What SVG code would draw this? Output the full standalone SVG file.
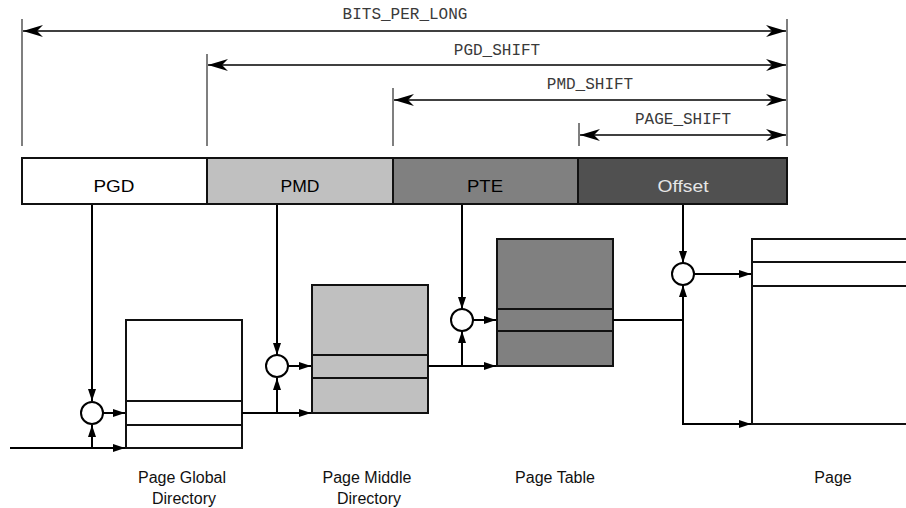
<svg xmlns="http://www.w3.org/2000/svg" width="906" height="508" viewBox="0 0 906 508">
<defs>
<marker id="big" markerUnits="userSpaceOnUse" viewBox="0 0 20 12" refX="20" refY="6" markerWidth="20" markerHeight="12" orient="auto-start-reverse">
<path d="M0,0 L20,6 L0,12 L6,6 Z" fill="#000"/>
</marker>
<marker id="sm" markerUnits="userSpaceOnUse" viewBox="0 0 12 8" refX="12" refY="4" markerWidth="12" markerHeight="8" orient="auto">
<path d="M0,0 L12,4 L0,8 Z" fill="#000"/>
</marker>
</defs>
<style>
.dim{stroke:#000;stroke-width:1.3;fill:none;marker-start:url(#big);marker-end:url(#big)}
.tick{stroke:#555;stroke-width:1.5}
.mono{font-family:"Liberation Mono","DejaVu Sans Mono",monospace;font-size:16px;fill:#3a3a3a;text-anchor:middle}
.lbl{font-family:"Liberation Sans",Arial,sans-serif;font-size:17px;text-anchor:middle}
.cap{font-family:"Liberation Sans",Arial,sans-serif;font-size:16px;text-anchor:middle;fill:#111}
.box{stroke:#111;stroke-width:2}
.ln{stroke:#000;stroke-width:2;fill:none}
.arr{stroke:#000;stroke-width:2;fill:none;marker-end:url(#sm)}
.circ{fill:#fff;stroke:#000;stroke-width:2}
</style>
<rect width="906" height="508" fill="#fff"/>

<g id="dimensions">
<line class="tick" x1="22" y1="19" x2="22" y2="146"/>
<line class="tick" x1="207" y1="54" x2="207" y2="146"/>
<line class="tick" x1="393" y1="88" x2="393" y2="146"/>
<line class="tick" x1="579" y1="123" x2="579" y2="146"/>
<line class="tick" x1="787" y1="19" x2="787" y2="146" stroke="#000"/>
<line class="dim" x1="23" y1="31" x2="786" y2="31"/>
<line class="dim" x1="208" y1="65" x2="786" y2="65"/>
<line class="dim" x1="394" y1="100" x2="786" y2="100"/>
<line class="dim" x1="580" y1="135" x2="786" y2="135"/>
<text class="mono" x="405" y="19">BITS_PER_LONG</text>
<text class="mono" x="497" y="55">PGD_SHIFT</text>
<text class="mono" x="590" y="89">PMD_SHIFT</text>
<text class="mono" x="683" y="124">PAGE_SHIFT</text>
</g>

<g id="address">
<rect class="box" x="22" y="158" width="185" height="46" fill="#fff"/>
<rect class="box" x="207" y="158" width="186" height="46" fill="#c0c0c0"/>
<rect class="box" x="393" y="158" width="185" height="46" fill="#808080"/>
<rect class="box" x="578" y="158" width="209" height="46" fill="#505050"/>
<text class="lbl" x="114" y="192" textLength="41" lengthAdjust="spacingAndGlyphs">PGD</text>
<text class="lbl" x="300" y="192" textLength="39" lengthAdjust="spacingAndGlyphs">PMD</text>
<text class="lbl" x="485" y="192" textLength="36" lengthAdjust="spacingAndGlyphs">PTE</text>
<text class="lbl" x="683" y="192" textLength="51" lengthAdjust="spacingAndGlyphs" fill="#e6e6e6">Offset</text>
</g>

<g id="pgd-table">
<rect class="box" x="126" y="320" width="116" height="128" fill="#fff"/>
<line class="box" x1="126" y1="401" x2="242" y2="401"/>
<line class="box" x1="126" y1="425" x2="242" y2="425"/>
<text class="cap" x="182" y="483">Page Global</text>
<text class="cap" x="184" y="504">Directory</text>
</g>

<g id="pmd-table">
<rect class="box" x="312" y="285" width="116" height="128" fill="#c0c0c0"/>
<line class="box" x1="312" y1="355" x2="428" y2="355"/>
<line class="box" x1="312" y1="378" x2="428" y2="378"/>
<text class="cap" x="367" y="483">Page Middle</text>
<text class="cap" x="369" y="504">Directory</text>
</g>

<g id="pte-table">
<rect class="box" x="497" y="239" width="116" height="127" fill="#808080"/>
<line class="box" x1="497" y1="309" x2="613" y2="309"/>
<line class="box" x1="497" y1="331" x2="613" y2="331"/>
<text class="cap" x="555" y="483">Page Table</text>
</g>

<g id="page">
<rect class="box" x="752" y="239" width="170" height="185" fill="#fff"/>
<line class="box" x1="752" y1="262" x2="922" y2="262"/>
<line class="box" x1="752" y1="286" x2="922" y2="286"/>
<text class="cap" x="833" y="483">Page</text>
</g>

<g id="connectors">
<line class="arr" x1="92" y1="205" x2="92" y2="401"/>
<line class="ln" x1="10" y1="448" x2="92" y2="448"/>
<line class="arr" x1="92" y1="448" x2="125" y2="448"/>
<line class="arr" x1="92" y1="448" x2="92" y2="425"/>
<line class="arr" x1="103" y1="413" x2="125" y2="413"/>
<line class="arr" x1="277" y1="205" x2="277" y2="355"/>
<line class="arr" x1="242" y1="413" x2="311" y2="413"/>
<line class="arr" x1="277" y1="413" x2="277" y2="378"/>
<line class="arr" x1="288" y1="366" x2="311" y2="366"/>
<line class="arr" x1="462" y1="205" x2="462" y2="309"/>
<line class="arr" x1="428" y1="366" x2="496" y2="366"/>
<line class="arr" x1="462" y1="366" x2="462" y2="331"/>
<line class="arr" x1="473" y1="320" x2="496" y2="320"/>
<line class="arr" x1="683" y1="205" x2="683" y2="263"/>
<line class="ln" x1="613" y1="320" x2="683" y2="320"/>
<line class="arr" x1="683" y1="320" x2="683" y2="285"/>
<polyline class="arr" points="683,320 683,424 751,424"/>
<line class="arr" x1="694" y1="274" x2="751" y2="274"/>
</g>

<g id="adders">
<circle class="circ" cx="92" cy="413" r="11"/>
<circle class="circ" cx="277" cy="366" r="11"/>
<circle class="circ" cx="462" cy="320" r="11"/>
<circle class="circ" cx="683" cy="274" r="11"/>
</g>
</svg>
